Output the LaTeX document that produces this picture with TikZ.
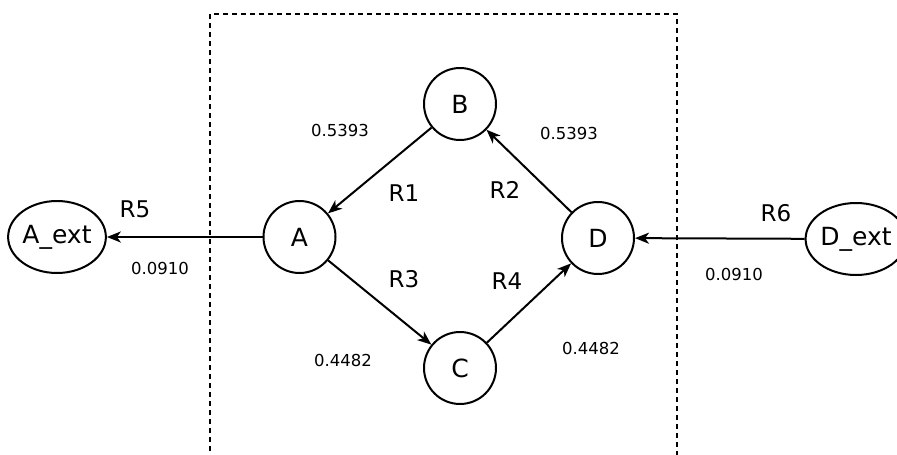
\documentclass[tikz,border=0pt]{standalone}
\usepackage{fontspec}
\setmainfont{DejaVu Sans}
\usetikzlibrary{arrows.meta,shapes.geometric}
\begin{document}
\begin{tikzpicture}[x=1pt,y=-1pt,
  state/.style={circle,draw,line width=2pt,minimum size=72pt,inner sep=0pt,font=\fontsize{25}{29}\selectfont},
  extstate/.style={ellipse,draw,line width=2pt,minimum width=97pt,minimum height=72pt,inner sep=0pt,font=\fontsize{25}{29}\selectfont},
  flow/.style={-{Stealth[length=14pt,width=11pt,inset=4pt]},line width=2pt},
  rlab/.style={inner sep=0pt,font=\fontsize{23}{27}\selectfont},
  numlab/.style={inner sep=0pt,font=\fontsize{16.5}{20}\selectfont},
  box/.style={dashed,line width=1.8pt,dash pattern=on 5pt off 4pt}]
\useasboundingbox (0,0) rectangle (897,455);
\draw[box] (210,460) -- (210,14) -- (677,14) -- (677,460);
\node[state] (A) at (299.5,237) {A};
\node[state] (B) at (460,104) {B};
\node[state] (C) at (460,368) {C};
\node[state] (D) at (598,238) {D};
\node[extstate] (Aext) at (57,237) {A\_ext};
\node[extstate] (Dext) at (856,239) {D\_ext};
\draw[flow] (B) -- (A);
\draw[flow] (D) -- (B);
\draw[flow] (A) -- (C);
\draw[flow] (C) -- (D);
\draw[flow] (A) -- (Aext);
\draw[flow] (Dext) -- (D);
\node[numlab] (n1) at (340,130) {0.5393};
\node[rlab] (r1) at (404,193) {R1};
\node[numlab] (n2) at (569,133) {0.5393};
\node[rlab] (r2) at (505,190) {R2};
\node[rlab] (r5) at (135,209) {R5};
\node[numlab] (n5) at (160,268) {0.0910};
\node[rlab] (r3) at (404,279) {R3};
\node[rlab] (r4) at (507,281) {R4};
\node[numlab] (n3) at (343,360) {0.4482};
\node[numlab] (n4) at (591,348) {0.4482};
\node[rlab] (r6) at (776,213) {R6};
\node[numlab] (n6) at (734,274) {0.0910};
\end{tikzpicture}
\end{document}
